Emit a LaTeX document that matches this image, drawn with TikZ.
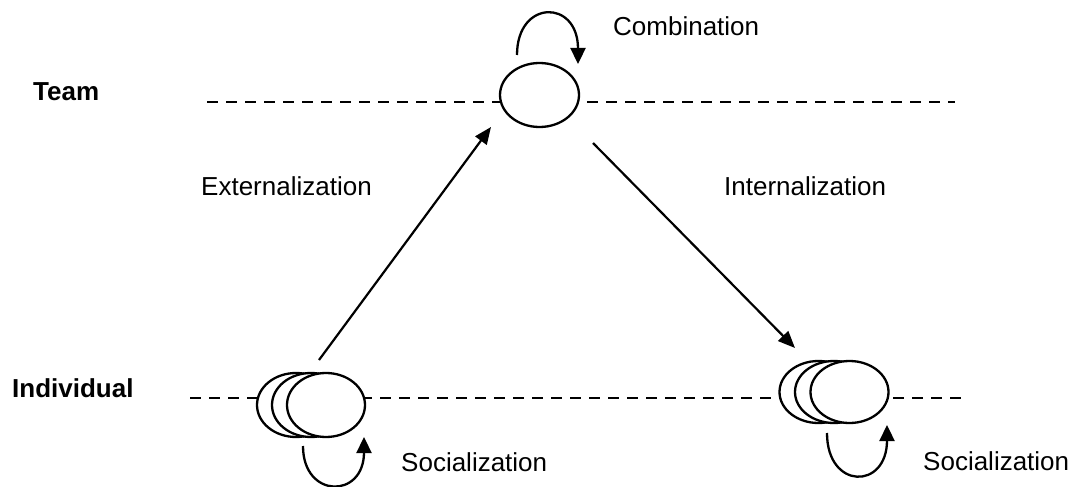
\documentclass[tikz,border=0pt]{standalone}
\usepackage{fontspec}
\setmainfont{Liberation Sans}
\usetikzlibrary{arrows.meta,shapes.geometric}
\begin{document}
\begin{tikzpicture}[x=1pt,y=-1pt,
  level/.style={line width=2.3pt,dash pattern=on 10.5pt off 8.5pt},
  state/.style={draw,ellipse,fill=white,line width=2.3pt,inner sep=0pt,
    minimum width=78pt,minimum height=64pt},
  flow/.style={line width=2.2pt,-{Triangle[length=17pt,width=14pt]}},
  loopflow/.style={line width=2.3pt,-{Triangle[length=16pt,width=15pt]}},
  lbl/.style={anchor=base west,inner sep=0pt,font=\fontsize{26}{30}\selectfont},
  lvl/.style={lbl,font=\fontsize{26}{30}\selectfont\bfseries}]
\useasboundingbox (0,0) rectangle (1079,487);

% level lines
\coordinate (teamA) at (207,102);
\coordinate (teamB) at (955,102);
\coordinate (indA) at (190,398);
\coordinate (indB) at (967,398);
\draw[level] (teamA) -- (teamB);
\draw[level] (indA) -- (indB);

% team knowledge
\node[state,minimum width=79pt] (team) at (539.5,95) {};

% individual knowledge, left group
\node[state] (l1) at (296,405) {};
\node[state] (l2) at (311,405) {};
\node[state] (l3) at (326,405) {};

% individual knowledge, right group
\node[state,minimum height=62pt] (r1) at (818.5,392) {};
\node[state,minimum height=62pt] (r2) at (834,392) {};
\node[state,minimum height=62pt] (r3) at (849.5,392) {};

% conversion arrows between levels
\coordinate (extS) at (319,360);
\coordinate (extE) at (491,127);
\coordinate (intS) at (593,143);
\coordinate (intE) at (795,348);
\draw[flow] (extS) -- (extE);
\draw[flow] (intS) -- (intE);

% self loops
\coordinate (cS) at (517,55);
\coordinate (cE) at (578,64);
\draw[loopflow] (cS) .. controls (517,-1) and (578,-1) .. (cE);
\coordinate (slS) at (303,446);
\coordinate (slE) at (364,437);
\draw[loopflow] (slS) .. controls (303,499) and (364,499) .. (slE);
\coordinate (srS) at (827,433);
\coordinate (srE) at (887,425);
\draw[loopflow] (srS) .. controls (827,490) and (887,490) .. (srE);

% labels
\node[lvl] (tTeam) at (33,100) {Team};
\node[lvl] (tInd) at (12,397) {Individual};
\node[lbl] (tComb) at (613,36) {Combination};
\node[lbl] (tExt) at (201,195) {Externalization};
\node[lbl] (tInt) at (724,195) {Internalization};
\node[lbl] (tSocL) at (401,471) {Socialization};
\node[lbl] (tSocR) at (923,470) {Socialization};
\end{tikzpicture}
\end{document}
